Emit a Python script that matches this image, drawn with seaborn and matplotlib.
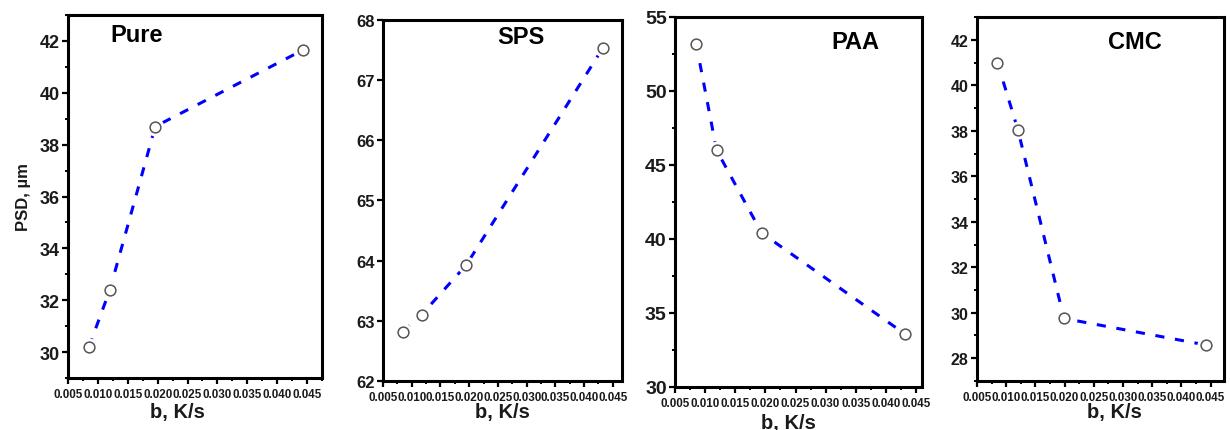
import matplotlib
matplotlib.use("Agg")
import matplotlib.pyplot as plt
import seaborn as sns
import pandas as pd
from matplotlib.ticker import MultipleLocator, FormatStrFormatter

# ---- data ----
titles = ["Pure", "SPS", "PAA", "CMC"]
pure_b = [0.0085, 0.0120, 0.0196, 0.0443]
pure_psd = [30.2, 32.4, 38.7, 41.65]
sps_b = [0.0084, 0.0117, 0.0195, 0.0433]
sps_psd = [62.82, 63.10, 63.93, 67.54]
paa_b = [0.0085, 0.0119, 0.0194, 0.0431]
paa_psd = [53.2, 46.0, 40.4, 33.6]
cmc_b = [0.0085, 0.0120, 0.0199, 0.0443]
cmc_psd = [41.0, 38.05, 29.75, 28.58]
xticks = [0.005, 0.010, 0.015, 0.020, 0.025, 0.030, 0.035, 0.040, 0.045]

sns.set_theme(style="ticks")
plt.rcParams["font.family"] = ["Liberation Sans", "DejaVu Sans"]
plt.rcParams["font.weight"] = "bold"

fig = plt.figure(figsize=(12.3, 4.31), dpi=100)

panels = [
    dict(b=pure_b, y=pure_psd, pos=[0.0553, 0.1206, 0.2065, 0.8422], xlim=(0.005, 0.0475),
         ylim=(29, 43), ymaj=2, ymin=1, yfs=13, tpos=(0.27, 0.945), lab=(0.43, -0.066)),
    dict(b=sps_b, y=sps_psd, pos=[0.3114, 0.1137, 0.1943, 0.8376], xlim=(0.005, 0.0466),
         ylim=(62, 68), ymaj=1, ymin=None, yfs=12, tpos=(0.577, 0.955), lab=(0.5, -0.058)),
    dict(b=paa_b, y=paa_psd, pos=[0.5488, 0.0998, 0.2008, 0.8585], xlim=(0.005, 0.046),
         ylim=(30, 55), ymaj=5, ymin=2.5, yfs=14, tpos=(0.729, 0.935), lab=(0.46, -0.070)),
    dict(b=cmc_b, y=cmc_psd, pos=[0.7943, 0.1137, 0.2008, 0.8445], xlim=(0.005, 0.0473),
         ylim=(27, 43), ymaj=2, ymin=1, yfs=11.5, tpos=(0.64, 0.934), lab=(0.555, -0.058)),
]

for i, p in enumerate(panels):
    ax = fig.add_axes(p["pos"])
    df = pd.DataFrame({"b": p["b"], "psd": p["y"]})
    sns.lineplot(data=df, x="b", y="psd", ax=ax, color="#0000ff", lw=2.2,
                 linestyle=(0, (3, 3.5)), sort=False, zorder=2)
    # white halo so the dashed line stops short of the markers
    sns.scatterplot(data=df, x="b", y="psd", ax=ax, s=170, color="white",
                    linewidth=0, zorder=3)
    sns.scatterplot(data=df, x="b", y="psd", ax=ax, s=60, facecolor="white",
                    edgecolor="#555555", linewidth=1.1, zorder=4)
    ax.set_xlim(*p["xlim"])
    ax.set_ylim(*p["ylim"])
    ax.set_xticks(xticks)
    ax.xaxis.set_major_formatter(FormatStrFormatter("%.3f"))
    ax.xaxis.set_minor_locator(MultipleLocator(0.0025))
    ax.yaxis.set_major_locator(MultipleLocator(p["ymaj"]))
    if p["ymin"]:
        ax.yaxis.set_minor_locator(MultipleLocator(p["ymin"]))
    ax.tick_params(axis="both", which="major", direction="out", length=4, width=1.6,
                   color="black", pad=2)
    ax.tick_params(axis="both", which="minor", direction="out", length=2.5, width=1.4,
                   color="black")
    ax.tick_params(axis="x", labelsize=8.4, pad=3)
    ax.tick_params(axis="y", labelsize=p["yfs"])
    for lbl in ax.get_xticklabels() + ax.get_yticklabels():
        lbl.set_fontweight("bold")
        lbl.set_color("#1a1a1a")
    for s in ax.spines.values():
        s.set_visible(True)
        s.set_linewidth(2.2)
        s.set_color("black")
    ax.set_xlabel("b, K/s", fontsize=14.5, fontweight="bold", color="#1a1a1a")
    ax.xaxis.set_label_coords(*p["lab"])
    if i == 0:
        ax.set_ylabel("PSD, µm", fontsize=12, fontweight="bold", color="#1a1a1a")
        ax.yaxis.set_label_coords(-0.145, 0.5)
    else:
        ax.set_ylabel("")
    ax.text(p["tpos"][0], p["tpos"][1], titles[i], transform=ax.transAxes,
            ha="center", va="center", fontsize=17, fontweight="bold", color="black")
    ax.grid(False)

fig.savefig("out.png", dpi=100, facecolor="white")
